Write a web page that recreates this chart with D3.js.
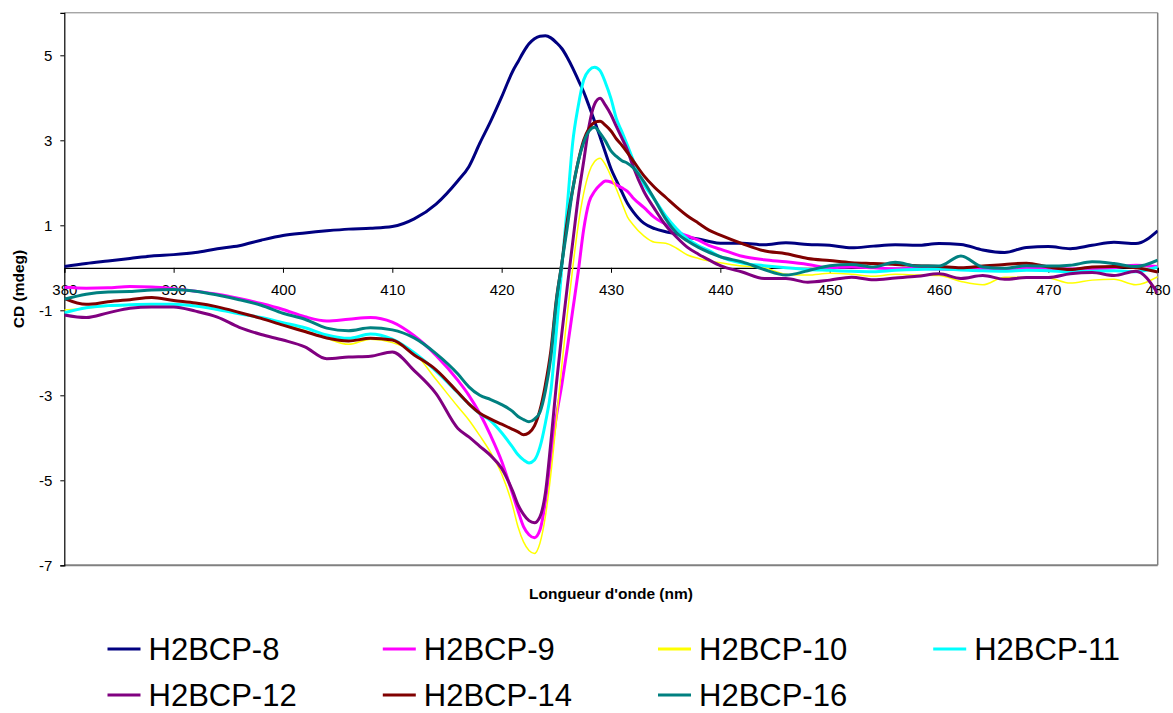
<!DOCTYPE html>
<html>
<head>
<meta charset="utf-8">
<script src="https://cdn.jsdelivr.net/npm/d3@7"></script>
<style>
  html, body { margin: 0; padding: 0; background: #fff; }
  svg { display: block; font-family: Arial, "Liberation Sans", sans-serif; }
</style>
</head>
<body>
<svg id="chart" width="1173" height="713"></svg>
<script>
const wavelengths = [380,382,384,386,388,390,392,394,396,398,400,402,404,406,408,410,412,414,416,
  417,418,419,420,421,
  421.5,422,422.5,423,423.5,424,424.5,425,425.5,426,426.5,427,427.5,428,428.5,429,429.5,430,430.5,431,431.5,432,
  433,434,435,436,437,438,439,440,
  442,444,446,448,450,452,454,456,458,460,462,464,466,468,470,472,474,476,478,480];

const h2bcp8 = [0.03,0.10,0.16,0.22,0.28,0.31,0.36,0.45,0.52,0.65,0.76,0.82,0.87,0.91,0.93,0.97,1.15,1.50,2.05,
  2.38,2.93,3.45,4.02,4.62,
  4.85,5.08,5.27,5.39,5.45,5.46,5.41,5.30,5.16,4.95,4.70,4.42,4.14,3.80,3.45,3.08,2.70,2.33,2.05,1.78,1.52,1.33,
  1.05,0.92,0.85,0.80,0.72,0.68,0.62,0.58,
  0.58,0.54,0.59,0.55,0.53,0.47,0.51,0.54,0.53,0.57,0.55,0.42,0.36,0.48,0.50,0.45,0.53,0.60,0.57,0.87];

const h2bcp9 = [-0.46,-0.48,-0.47,-0.44,-0.45,-0.49,-0.55,-0.62,-0.72,-0.84,-0.98,-1.15,-1.25,-1.21,-1.17,-1.28,-1.60,-2.06,-2.65,
  -3.00,-3.43,-3.95,-4.55,-5.32,
  -5.72,-6.09,-6.28,-6.35,-6.17,-5.50,-4.45,-3.50,-2.75,-1.90,-1.00,-0.10,0.90,1.55,1.80,1.95,2.04,2.02,1.95,1.88,1.80,1.65,
  1.42,1.18,1.02,0.85,0.75,0.65,0.52,0.44,
  0.27,0.19,0.14,0.08,0.00,0.02,0.00,-0.02,-0.01,-0.03,-0.04,-0.02,-0.03,0.00,-0.02,-0.03,-0.02,0.00,0.06,0.03];

const h2bcp10 = [-0.99,-0.95,-0.90,-0.88,-0.87,-0.86,-0.90,-0.99,-1.08,-1.19,-1.32,-1.48,-1.66,-1.80,-1.68,-1.76,-2.00,-2.63,-3.27,
  -3.58,-3.95,-4.35,-4.85,-5.60,
  -6.10,-6.45,-6.65,-6.72,-6.48,-5.85,-4.85,-3.60,-2.30,-1.10,0.00,1.00,1.75,2.25,2.50,2.58,2.42,2.15,1.85,1.52,1.20,1.02,
  0.75,0.60,0.58,0.46,0.30,0.22,0.16,0.12,
  0.04,0.00,-0.15,-0.17,-0.13,-0.15,-0.20,-0.15,-0.17,-0.18,-0.32,-0.40,-0.22,-0.22,-0.24,-0.36,-0.29,-0.27,-0.40,-0.21];

const h2bcp11 = [-1.06,-0.94,-0.89,-0.87,-0.86,-0.86,-0.90,-0.98,-1.08,-1.17,-1.29,-1.41,-1.58,-1.66,-1.56,-1.68,-2.00,-2.43,-2.94,
  -3.20,-3.43,-3.60,-3.88,-4.22,
  -4.40,-4.52,-4.59,-4.52,-4.22,-3.65,-2.90,-1.50,0.00,1.44,2.95,3.80,4.42,4.65,4.72,4.64,4.35,3.98,3.50,3.20,2.88,2.55,
  1.97,1.60,1.22,0.92,0.68,0.52,0.40,0.26,
  0.11,0.05,0.00,-0.04,-0.06,-0.08,-0.09,-0.06,-0.04,-0.03,-0.05,-0.07,-0.08,-0.06,-0.07,-0.09,-0.08,-0.07,-0.09,0.02];

const h2bcp12 = [-1.11,-1.17,-1.06,-0.95,-0.92,-0.92,-1.02,-1.16,-1.40,-1.57,-1.70,-1.86,-2.14,-2.10,-2.08,-1.98,-2.42,-2.96,-3.78,
  -3.98,-4.20,-4.42,-4.72,-5.25,
  -5.58,-5.80,-5.95,-6.00,-5.86,-5.30,-4.10,-2.75,-1.55,-0.45,0.60,1.65,2.50,3.35,3.85,3.99,3.82,3.60,3.32,3.05,2.77,2.40,
  1.80,1.38,1.00,0.72,0.48,0.32,0.18,0.05,
  -0.10,-0.25,-0.25,-0.34,-0.29,-0.22,-0.28,-0.24,-0.20,-0.14,-0.25,-0.18,-0.27,-0.23,-0.23,-0.14,-0.11,-0.18,-0.08,-0.60];

const h2bcp14 = [-0.72,-0.86,-0.80,-0.75,-0.70,-0.77,-0.83,-0.92,-1.05,-1.19,-1.35,-1.50,-1.65,-1.72,-1.66,-1.70,-2.05,-2.40,-2.93,
  -3.20,-3.42,-3.56,-3.68,-3.80,
  -3.86,-3.93,-3.88,-3.72,-3.35,-2.75,-1.95,-0.75,0.10,1.10,1.85,2.50,3.00,3.28,3.42,3.45,3.35,3.22,3.03,2.88,2.71,2.53,
  2.17,1.89,1.66,1.43,1.22,1.05,0.88,0.77,
  0.57,0.40,0.33,0.22,0.17,0.12,0.10,0.08,0.05,0.03,0.00,0.04,0.08,0.11,0.02,-0.04,0.02,0.03,0.00,-0.10];

const h2bcp16 = [-0.74,-0.62,-0.57,-0.56,-0.52,-0.51,-0.55,-0.64,-0.75,-0.88,-1.07,-1.21,-1.42,-1.48,-1.41,-1.46,-1.65,-2.02,-2.50,
  -2.80,-3.00,-3.10,-3.22,-3.38,
  -3.50,-3.57,-3.62,-3.56,-3.40,-2.90,-2.10,-0.80,0.10,0.95,1.85,2.50,2.95,3.22,3.31,3.17,2.98,2.75,2.62,2.52,2.46,2.36,
  2.03,1.60,1.15,0.82,0.63,0.48,0.36,0.26,
  0.14,-0.04,-0.17,-0.07,0.05,0.08,0.02,0.13,0.04,0.04,0.28,0.02,-0.01,0.05,0.04,0.06,0.14,0.10,0.03,0.18];

const seriesNames = ["H2BCP-8","H2BCP-9","H2BCP-10","H2BCP-11","H2BCP-12","H2BCP-14","H2BCP-16"];
const seriesValues = [h2bcp8, h2bcp9, h2bcp10, h2bcp11, h2bcp12, h2bcp14, h2bcp16];
const seriesColors = ["#000080","#FF00FF","#FFFF00","#00FFFF","#800080","#800000","#008080"];
const seriesWidths = [3, 3, 1.5, 3, 3, 3, 3];

const xTicks = [380,390,400,410,420,430,440,450,460,470,480];
const yTicks = [-7,-5,-3,-1,1,3,5];
const xTitle = "Longueur d'onde (nm)";
const yTitle = "CD (mdeg)";

(function draw() {
  const svg = d3.select("#chart");
  const pLeft = 64.3, pRight = 1157.7, pTop = 12.8, pBottom = 565.3;
  const x = d3.scaleLinear().domain([380, 480]).range([pLeft, pRight]);
  const y = d3.scaleLinear().domain([-7, 6]).range([pBottom, pTop]);

  // plot border (top, right, bottom in gray)
  svg.append("line").attr("x1", pLeft).attr("x2", pRight).attr("y1", pTop).attr("y2", pTop)
    .attr("stroke", "#808080").attr("stroke-width", 1);
  svg.append("line").attr("x1", pRight).attr("x2", pRight).attr("y1", pTop).attr("y2", pBottom)
    .attr("stroke", "#808080").attr("stroke-width", 1.5);
  svg.append("line").attr("x1", pLeft).attr("x2", pRight).attr("y1", pBottom).attr("y2", pBottom)
    .attr("stroke", "#808080").attr("stroke-width", 2);

  // y axis
  const yAxis = d3.axisLeft(y).tickValues(yTicks).tickSize(4).tickPadding(8)
    .tickFormat(d => d < 0 ? "-" + Math.abs(d) : String(d));
  const gy = svg.append("g").attr("transform", `translate(${pLeft},0)`).call(yAxis);
  gy.select(".domain").attr("stroke", "#000").attr("stroke-width", 1.2);
  gy.selectAll(".tick line").attr("stroke", "#000");
  gy.selectAll("text").attr("font-size", 15).attr("fill", "#000")
    .attr("font-family", "Arial, 'Liberation Sans', sans-serif");

  // lines
  svg.append("clipPath").attr("id", "plotclip").append("rect")
    .attr("x", pLeft).attr("y", pTop).attr("width", pRight - pLeft).attr("height", pBottom - pTop);
  const line = d3.line().curve(d3.curveMonotoneX).x((d, i) => x(wavelengths[i])).y(d => y(d));

  // x axis at y = 0
  const xAxis = d3.axisBottom(x).tickValues(xTicks).tickSize(5).tickPadding(12).tickFormat(d3.format("d"));
  const gx = svg.append("g").attr("transform", `translate(0,${y(0)})`).call(xAxis);
  gx.select(".domain").attr("stroke", "#000").attr("stroke-width", 1.2);
  gx.selectAll(".tick line").attr("stroke", "#000");
  gx.selectAll("text").attr("font-size", 15).attr("fill", "#000")
    .attr("font-family", "Arial, 'Liberation Sans', sans-serif");

  const gLines = svg.append("g").attr("clip-path", "url(#plotclip)");
  seriesValues.forEach((vals, k) => {
    gLines.append("path").datum(vals)
      .attr("d", line)
      .attr("fill", "none")
      .attr("stroke", seriesColors[k])
      .attr("stroke-width", seriesWidths[k])
      .attr("stroke-linejoin", "round");
  });

  // axis titles
  svg.append("text").attr("x", (pLeft + pRight) / 2).attr("y", 599)
    .attr("text-anchor", "middle").attr("font-weight", "bold").attr("font-size", 15.5)
    .text(xTitle);
  svg.append("text").attr("transform", `translate(24,${(pTop + pBottom) / 2}) rotate(-90)`)
    .attr("text-anchor", "middle").attr("font-weight", "bold").attr("font-size", 15.5)
    .text(yTitle);

  // legend
  const legendColX = [107.5, 382.8, 658, 933.2];
  const legendRowY = [649, 695];
  seriesNames.forEach((name, i) => {
    const cx = legendColX[i % 4], cy = legendRowY[Math.floor(i / 4)];
    const g = svg.append("g");
    g.append("line").attr("x1", cx).attr("x2", cx + 33).attr("y1", cy).attr("y2", cy)
      .attr("stroke", seriesColors[i]).attr("stroke-width", 3);
    g.append("text").attr("x", cx + 41).attr("y", cy + 11)
      .attr("font-size", 31).attr("fill", "#000").text(name);
  });
})();
</script>
</body>
</html>
